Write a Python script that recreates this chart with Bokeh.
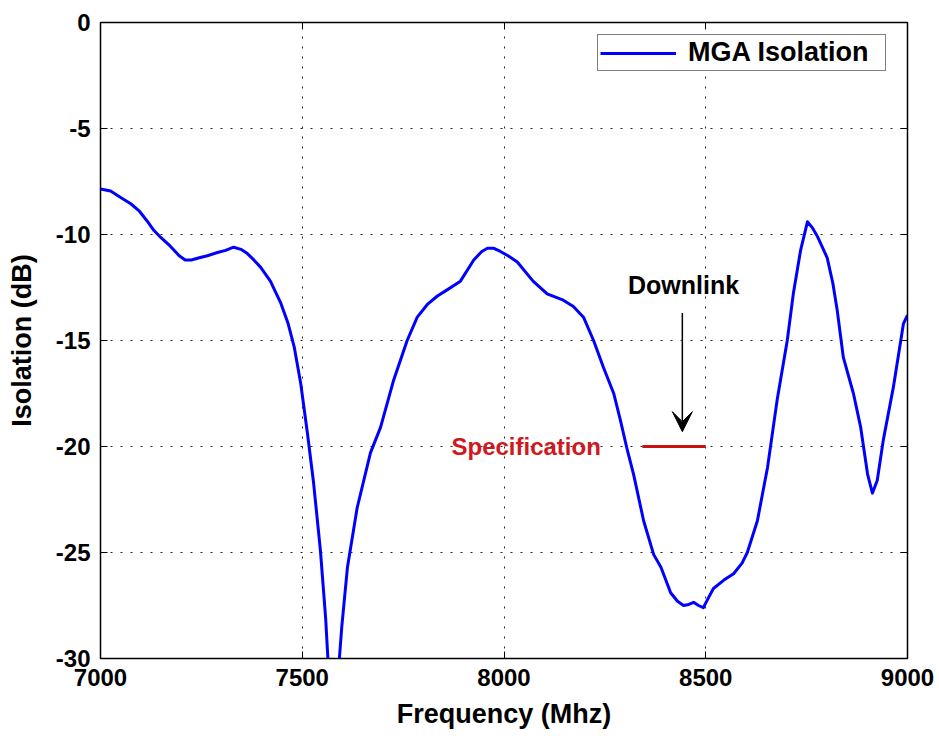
from bokeh.plotting import figure
from bokeh.models import (Range1d, FixedTicker, Legend, LegendItem, LinearAxis,
                          Arrow, VeeHead, PrintfTickFormatter)
from bokeh.core.properties import value
from bokeh.embed import file_html
from bokeh.resources import INLINE

# ---------------- data ----------------
freq_mhz = [7000, 7025, 7050, 7075, 7095, 7115, 7132, 7150, 7173, 7195, 7210, 7225,
            7245, 7265, 7290, 7310, 7330, 7348, 7364, 7380, 7397, 7421, 7446, 7465,
            7480, 7496, 7513, 7528, 7545, 7558, 7565, 7578, 7590, 7598, 7612, 7636,
            7669, 7694, 7726, 7760, 7785, 7810, 7835, 7860, 7892, 7925, 7945, 7959,
            7975, 7991, 8010, 8033, 8072, 8107, 8147, 8172, 8197, 8222, 8247, 8272,
            8289, 8306, 8321, 8346, 8371, 8389, 8413, 8430, 8445, 8458, 8470, 8482,
            8494, 8505, 8519, 8545, 8569, 8590, 8603, 8628, 8653, 8677, 8702, 8717,
            8735, 8752, 8765, 8777, 8801, 8815, 8826, 8841, 8866, 8884, 8901, 8913,
            8925, 8940, 8965, 8990, 9000]
isolation_db = [-7.85, -7.95, -8.25, -8.55, -8.87, -9.35, -9.8, -10.15, -10.55, -11.0,
                -11.2, -11.2, -11.1, -11.0, -10.85, -10.75, -10.6, -10.7, -10.9, -11.2,
                -11.55, -12.2, -13.2, -14.2, -15.3, -17.0, -19.4, -21.7, -24.9, -28.1,
                -30.5, -31.5, -30.5, -28.5, -25.7, -22.9, -20.3, -19.1, -16.9, -15.0,
                -13.9, -13.3, -12.9, -12.6, -12.2, -11.2, -10.8, -10.65, -10.65, -10.8,
                -11.0, -11.3, -12.2, -12.8, -13.1, -13.4, -13.9, -15.0, -16.3, -17.5,
                -18.8, -20.2, -21.3, -23.5, -25.1, -25.7, -26.9, -27.3, -27.5, -27.45,
                -27.35, -27.5, -27.6, -27.2, -26.7, -26.3, -26.0, -25.5, -25.0, -23.5,
                -21.0, -17.8, -15.0, -12.8, -10.75, -9.4, -9.7, -10.1, -11.1, -12.3,
                -13.6, -15.8, -17.5, -19.1, -21.3, -22.2, -21.6, -19.7, -17.2, -14.2,
                -13.8]

x_ticks = [7000, 7500, 8000, 8500, 9000]
y_ticks = [0, -5, -10, -15, -20, -25, -30]

spec_freq = [8343, 8500]
spec_level = -20
spec_label = "Specification"
spec_label_freq = 8240

downlink_label = "Downlink"
downlink_label_pos = (8445, -12.4)
downlink_arrow_freq = 8442
downlink_arrow_y = (-13.7, -19.3)

series_name = "MGA Isolation"

# ---------------- figure ----------------
FONT = "Liberation Sans"

p = figure(width=939, height=736, output_backend="svg", toolbar_location=None,
           x_range=Range1d(7000, 9000), y_range=Range1d(-30, 0),
           min_border_left=100, min_border_right=32, min_border_top=22,
           min_border_bottom=78, background_fill_color="white",
           border_fill_color="white")

p.outline_line_color = "black"
p.outline_line_width = 1.5

for ax in (p.xaxis[0], p.yaxis[0]):
    ax.major_label_text_font = FONT
    ax.major_label_text_font_style = "bold"
    ax.major_label_text_font_size = "24px"
    ax.major_label_text_color = "black"
    ax.axis_label_text_font = FONT
    ax.axis_label_text_font_style = "bold"
    ax.axis_label_text_font_size = "27px"
    ax.axis_label_text_color = "black"
    ax.major_tick_in = 7
    ax.major_tick_out = 0
    ax.minor_tick_in = 0
    ax.minor_tick_out = 0
    ax.axis_line_color = "black"
    ax.major_tick_line_color = "black"
    ax.formatter = PrintfTickFormatter(format="%d")

p.xaxis[0].ticker = FixedTicker(ticks=x_ticks)
p.yaxis[0].ticker = FixedTicker(ticks=y_ticks)
p.xaxis[0].axis_label = "Frequency (Mhz)"
p.yaxis[0].axis_label = "Isolation (dB)"
p.xaxis[0].major_label_standoff = 10
p.xaxis[0].axis_label_standoff = 10
p.yaxis[0].major_label_standoff = 10
p.yaxis[0].axis_label_standoff = 16

# mirrored inward ticks on top and right (labels not painted)
for ticks, side in ((x_ticks, "above"), (y_ticks, "right")):
    ax2 = LinearAxis(ticker=FixedTicker(ticks=ticks),
                     major_label_text_font_size="1px", major_label_text_color=None,
                     major_label_standoff=0, major_tick_in=7, major_tick_out=0,
                     minor_tick_in=0, minor_tick_out=0, axis_line_color="black",
                     major_tick_line_color="black")
    p.add_layout(ax2, side)

p.xgrid.ticker = FixedTicker(ticks=x_ticks)
p.ygrid.ticker = FixedTicker(ticks=y_ticks)
for g in (p.xgrid, p.ygrid):
    g.grid_line_color = "black"
    g.grid_line_dash = "2 8"
    g.grid_line_width = 1
    g.grid_line_alpha = 0.85

# main curve
r = p.line(freq_mhz, isolation_db, line_color="#0000ff", line_width=3,
           line_join="round")

# specification line and label
p.line(spec_freq, [spec_level, spec_level], line_color="#cc1111", line_width=3)
p.text(x=[spec_label_freq], y=[spec_level], text=[spec_label],
       text_font=value(FONT), text_font_style="bold", text_font_size="24px",
       text_color="#d01820", text_align="right", text_baseline="middle")

# downlink label + arrow
p.text(x=[downlink_label_pos[0]], y=[downlink_label_pos[1]], text=[downlink_label],
       text_font=value(FONT), text_font_style="bold", text_font_size="25px",
       text_color="black", text_align="center", text_baseline="middle")
p.add_layout(Arrow(x_start=downlink_arrow_freq, y_start=downlink_arrow_y[0],
                   x_end=downlink_arrow_freq, y_end=downlink_arrow_y[1],
                   line_color="black", line_width=1.5,
                   end=VeeHead(size=20, fill_color="black", line_color="black")))

# legend
legend = Legend(items=[LegendItem(label=series_name, renderers=[r])],
                location=(497, 587), orientation="vertical",
                label_text_font=FONT, label_text_font_style="bold",
                label_text_font_size="27px", label_text_color="black",
                glyph_width=76, label_standoff=12, label_width=195,
                padding=2, spacing=0,
                border_line_color="black", border_line_width=1,
                background_fill_color="white", background_fill_alpha=1.0)
p.add_layout(legend)

open("out.html", "w").write(file_html(p, INLINE))
